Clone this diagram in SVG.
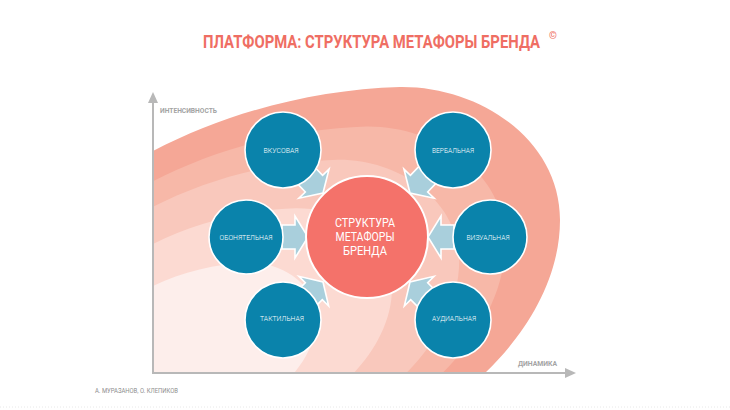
<svg xmlns="http://www.w3.org/2000/svg" xmlns:xlink="http://www.w3.org/1999/xlink" width="730" height="410" viewBox="0 0 730 410">
<style>
.title{font-family:"Liberation Sans Narrow","Roboto","Liberation Sans",sans-serif;font-weight:bold;fill:#ef6e63}
.axis{stroke:#b8b8b8;stroke-width:2;fill:none}
.axlbl{font-family:"Liberation Sans Narrow","Roboto","Liberation Sans",sans-serif;font-weight:bold;font-size:7.5px;fill:#a3a3a3}
.sat circle{fill:#0a83ab;stroke:#ffffff;stroke-width:1.6}
.sat text{font-family:"Liberation Sans Narrow","Roboto","Liberation Sans",sans-serif;font-weight:300;font-size:8px;fill:#ffffff;text-anchor:middle}
.ctr circle{fill:#f4726a;stroke:#ffffff;stroke-width:2}
.ctr text{font-family:"Liberation Sans Narrow","Roboto","Liberation Sans",sans-serif;font-size:12.5px;fill:#ffffff;text-anchor:middle}
.arr{fill:#a9cfdc;stroke:#ffffff;stroke-width:1.6;stroke-linejoin:miter}
.foot{font-family:"Liberation Sans Narrow","Roboto","Liberation Sans",sans-serif;font-size:7.5px;fill:#8e8e8e}
</style>
<defs>
<path id="band" d="M120,170 C200,120 300,90 400,87 C480,86 560,140 560,220 C560,280 525,335 485,373 L485,430 L120,430 Z"/>
<path id="blk" d="M-26,-12 L-13,-12 L-13,-21 L0,0 L-13,21 L-13,12 L-26,12 Z"/>
<clipPath id="plot"><rect x="153" y="0" width="577" height="373"/></clipPath>
</defs>
<rect width="730" height="410" fill="#ffffff"/>
<text class="title" x="203" y="48" font-size="18.5" textLength="337" lengthAdjust="spacingAndGlyphs">ПЛАТФОРМА: СТРУКТУРА МЕТАФОРЫ БРЕНДА</text>
<text class="title" x="549" y="39" font-size="10">©</text>
<g id="background" clip-path="url(#plot)">
<use xlink:href="#band" fill="#f5a796"/>
<use xlink:href="#band" fill="#f7b8a8" transform="translate(140 390) scale(0.87) translate(-140 -390)"/>
<use xlink:href="#band" fill="#f9c8bc" transform="translate(140 390) scale(0.76) translate(-140 -390)"/>
<use xlink:href="#band" fill="#fcdad2" transform="translate(140 390) scale(0.6) translate(-140 -390)"/>
<use xlink:href="#band" fill="#fdeeeb" transform="translate(140 390) scale(0.42) translate(-140 -390)"/>
</g>
<g id="axes">
<line class="axis" x1="153" y1="100" x2="153" y2="374"/>
<line class="axis" x1="152" y1="373" x2="567" y2="373"/>
<path d="M153,92 L148,103 L158,103 Z" fill="#b8b8b8"/>
<path d="M576,373 L565,368 L565,378 Z" fill="#b8b8b8"/>
<text class="axlbl" x="160" y="113" textLength="57" lengthAdjust="spacingAndGlyphs">ИНТЕНСИВНОСТЬ</text>
<text class="axlbl" x="518" y="366" textLength="39" lengthAdjust="spacingAndGlyphs">ДИНАМИКА</text>
</g>
<g id="connectors">
<use xlink:href="#blk" class="arr" transform="translate(308 237)"/>
<use xlink:href="#blk" class="arr" transform="translate(428 237) rotate(180)"/>
<use xlink:href="#blk" class="arr" transform="translate(323 193) rotate(46)"/>
<use xlink:href="#blk" class="arr" transform="translate(410 193) rotate(134)"/>
<use xlink:href="#blk" class="arr" transform="translate(323 282) rotate(-45)"/>
<use xlink:href="#blk" class="arr" transform="translate(410 282) rotate(-135)"/>
</g>
<g id="center" class="ctr">
<circle cx="367" cy="237" r="61"/>
<text x="365" y="227" textLength="60" lengthAdjust="spacingAndGlyphs">СТРУКТУРА</text>
<text x="365" y="241" textLength="59" lengthAdjust="spacingAndGlyphs">МЕТАФОРЫ</text>
<text x="365" y="255" textLength="44" lengthAdjust="spacingAndGlyphs">БРЕНДА</text>
</g>
<g id="vkusovaya" class="sat">
<circle cx="283" cy="150" r="38"/>
<text x="281" y="153" textLength="35" lengthAdjust="spacingAndGlyphs">ВКУСОВАЯ</text>
</g>
<g id="verbalnaya" class="sat">
<circle cx="453" cy="150" r="38"/>
<text x="453" y="153" textLength="42" lengthAdjust="spacingAndGlyphs">ВЕРБАЛЬНАЯ</text>
</g>
<g id="obonyatelnaya" class="sat">
<circle cx="246" cy="237" r="37"/>
<text x="246" y="240" textLength="53" lengthAdjust="spacingAndGlyphs">ОБОНЯТЕЛЬНАЯ</text>
</g>
<g id="vizualnaya" class="sat">
<circle cx="490" cy="237" r="37"/>
<text x="488" y="240" textLength="43" lengthAdjust="spacingAndGlyphs">ВИЗУАЛЬНАЯ</text>
</g>
<g id="taktilnaya" class="sat">
<circle cx="283" cy="320" r="38"/>
<text x="282" y="321" textLength="44" lengthAdjust="spacingAndGlyphs">ТАКТИЛЬНАЯ</text>
</g>
<g id="audialnaya" class="sat">
<circle cx="453" cy="320" r="38"/>
<text x="454" y="321" textLength="44" lengthAdjust="spacingAndGlyphs">АУДИАЛЬНАЯ</text>
</g>
<text class="foot" x="95" y="393" textLength="83" lengthAdjust="spacingAndGlyphs">А. МУРАЗАНОВ, О. КЛЕПИКОВ</text>
<line x1="0" y1="407" x2="730" y2="407" stroke="#e8e8e8" stroke-width="1" stroke-dasharray="1 2"/>
</svg>
